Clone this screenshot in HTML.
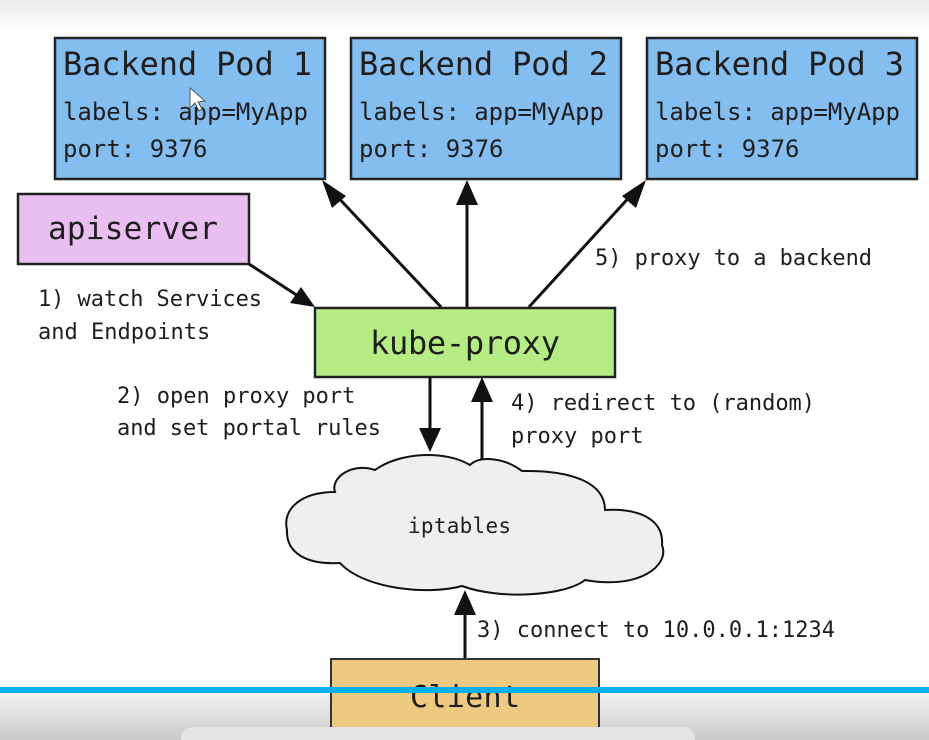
<!DOCTYPE html>
<html><head><meta charset="utf-8"><style>
html,body{margin:0;padding:0;width:929px;height:740px;overflow:hidden;background:#fff}
svg{display:block}
text{font-family:"DejaVu Sans Mono","Liberation Mono",monospace;fill:#1e1e1e}
</style></head><body>
<svg width="929" height="740" viewBox="0 0 929 740" xmlns="http://www.w3.org/2000/svg">
<defs>
<linearGradient id="top" x1="0" y1="0" x2="0" y2="1"><stop offset="0" stop-color="#ececec"/><stop offset="1" stop-color="#ffffff"/></linearGradient>
<linearGradient id="bot" x1="0" y1="0" x2="0" y2="1"><stop offset="0" stop-color="#f4f4f4"/><stop offset="1" stop-color="#c9c9c9"/></linearGradient>
</defs>
<rect x="0" y="0" width="929" height="30" fill="url(#top)"/>
<g stroke="#222" stroke-width="2.5" fill="#84bdf0">
<rect x="55" y="38" width="270" height="141"/>
<rect x="351" y="38" width="270" height="141"/>
<rect x="647" y="38" width="270" height="141"/>
</g>
<g font-size="32" textLength="249">
<text x="63" y="75" textLength="249">Backend Pod 1</text>
<text x="359" y="75" textLength="249">Backend Pod 2</text>
<text x="655" y="75" textLength="249">Backend Pod 3</text>
</g>
<g font-size="24">
<text x="63" y="120" textLength="245">labels: app=MyApp</text><text x="63" y="157">port: 9376</text>
<text x="359" y="120" textLength="245">labels: app=MyApp</text><text x="359" y="157">port: 9376</text>
<text x="655" y="120" textLength="245">labels: app=MyApp</text><text x="655" y="157">port: 9376</text>
</g>
<path d="M190,88 L190,108 L195,103 L199,111 L202,109 L198,102 L205,101 Z" fill="#fff" stroke="#555" stroke-width="1"/>
<rect x="18" y="194" width="231" height="70" fill="#e9bff2" stroke="#222" stroke-width="2.5"/>
<text x="48" y="239" font-size="31" textLength="170">apiserver</text>
<rect x="315" y="308" width="300" height="69" fill="#b6ec84" stroke="#222" stroke-width="2.5"/>
<text x="370" y="354" font-size="32" textLength="190">kube-proxy</text>
<g stroke="#111" stroke-width="3" fill="none">
<line x1="441" y1="307" x2="333" y2="192"/>
<line x1="467" y1="307" x2="467" y2="200"/>
<line x1="529" y1="307" x2="634" y2="192"/>
<line x1="249" y1="264" x2="298" y2="296"/>
<line x1="430" y1="377" x2="430" y2="432"/>
<line x1="482" y1="470" x2="482" y2="398"/>
<line x1="465" y1="660" x2="465" y2="612"/>
</g>
<g fill="#111">
<polygon points="322,180 346,196 332,208"/>
<polygon points="467,180 456,205 478,205"/>
<polygon points="646,180 622,196 636,208"/>
<polygon points="315,307 290,303 301,287"/>
<polygon points="430,452 419,428 441,428"/>
<polygon points="482,377 471,402 493,402"/>
<polygon points="465,590 454,615 476,615"/>
</g>
<path d="M335,492 C300,492 282,510 287,530 C286,552 305,565 340,563 C365,590 430,595 462,586 C500,600 565,596 585,580 C640,590 670,565 662,545 C664,520 640,508 605,510 C605,482 570,470 522,471 C505,458 480,455 470,465 C445,450 400,452 375,470 C352,462 330,478 335,492 Z" fill="#efefef" stroke="#111" stroke-width="2"/>
<text x="408" y="533" font-size="21" textLength="103">iptables</text>
<g font-size="22">
<text x="38" y="306" textLength="224">1) watch Services</text>
<text x="38" y="339">and Endpoints</text>
<text x="117" y="403">2) open proxy port</text>
<text x="117" y="435" textLength="264">and set portal rules</text>
<text x="511" y="410" textLength="304">4) redirect to (random)</text>
<text x="511" y="443">proxy port</text>
<text x="595" y="265" textLength="277">5) proxy to a backend</text>
<text x="477" y="637" textLength="358">3) connect to 10.0.0.1:1234</text>
</g>
<rect x="0" y="692" width="929" height="48" fill="url(#bot)"/>
<rect x="331" y="659" width="268" height="70" fill="#edc981" stroke="#333" stroke-width="2"/>
<text x="410" y="707" font-size="30" textLength="110">Client</text>
<rect x="0" y="687" width="929" height="6" fill="#00b0ea"/>
<rect x="181" y="727" width="514" height="20" rx="12" fill="#e4e4e4"/>
</svg>
</body></html>
